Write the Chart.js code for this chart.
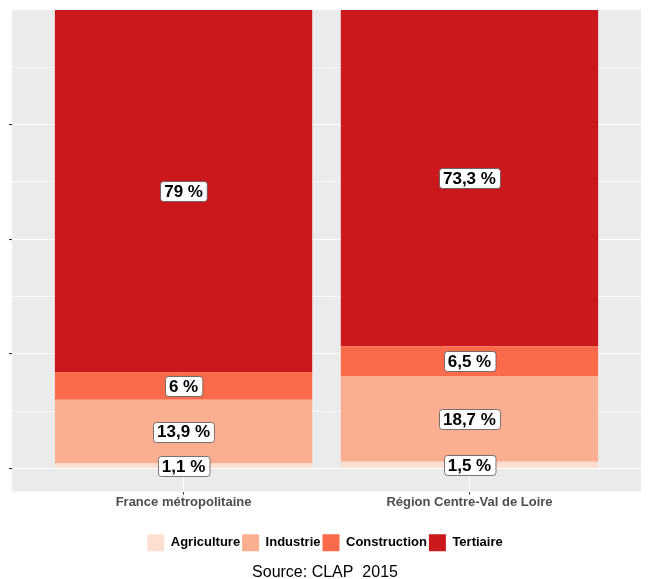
<!DOCTYPE html>
<html><head><meta charset="utf-8">
<script src="https://cdn.jsdelivr.net/npm/chart.js@4.4.0/dist/chart.umd.min.js"></script>
<style>html,body{margin:0;padding:0;background:#fff}#wrap{width:648px;height:579px}</style>
</head><body><div id="wrap"><canvas id="c" width="648" height="579"></canvas></div>
<script>
const categories = ['France métropolitaine', 'Région Centre-Val de Loire'];
const seriesNames = ['Agriculture', 'Industrie', 'Construction', 'Tertiaire'];
const agriculture = [1.1, 1.5];
const industrie = [13.9, 18.7];
const construction = [6, 6.5];
const tertiaire = [79, 73.3];
const gridValues = [0, 12.5, 25, 37.5, 50, 62.5, 75, 87.5];
const majorTicks = [0, 25, 50, 75];
const sourceText = 'Source: CLAP  2015';

const colors = ['#FEE0D2', '#FCAE91', '#FB6A4A', '#CB181D'];
const seriesValues = [agriculture, industrie, construction, tertiaire];
const FONT = '"Liberation Sans", Arial, Helvetica, sans-serif';

const datasets = seriesNames.map((name, si) => ({
  label: name,
  data: categories.map((c, ci) => ({ x: ci + 1, y: seriesValues[si][ci] })),
  backgroundColor: colors[si],
  borderWidth: 0,
  barPercentage: 1,
  categoryPercentage: 0.9
}));

const panelBg = {
  id: 'panelBg',
  beforeDraw(chart) {
    const { ctx, chartArea: a } = chart;
    ctx.save();
    ctx.fillStyle = '#EBEBEB';
    ctx.fillRect(a.left, a.top, a.right - a.left, a.bottom - a.top);
    ctx.restore();
  }
};

function fmt(v) { return String(v).replace('.', ',') + ' %'; }

const labelPlugin = {
  id: 'valueLabels',
  afterDatasetsDraw(chart) {
    const ctx = chart.ctx;
    ctx.save();
    ctx.font = 'bold 17px ' + FONT;
    ctx.textAlign = 'center';
    ctx.textBaseline = 'middle';
    chart.data.datasets.forEach((ds, di) => {
      const meta = chart.getDatasetMeta(di);
      meta.data.forEach((el, i) => {
        const txt = fmt(ds.data[i].y);
        const cx = el.x, cy = (el.y + el.base) / 2;
        const w = ctx.measureText(txt).width + 8, h = 20;
        const x0 = Math.round(cx - w / 2) + 0.5, y0 = Math.round(cy - h / 2) + 0.5;
        ctx.beginPath();
        ctx.roundRect(x0, y0, w, h, 3);
        ctx.fillStyle = '#FFFFFF';
        ctx.fill();
        ctx.lineWidth = 0.8;
        ctx.strokeStyle = '#555';
        ctx.stroke();
        ctx.fillStyle = '#000';
        ctx.fillText(txt, cx, cy + 1);
      });
    });
    ctx.restore();
  }
};

new Chart(document.getElementById('c'), {
  type: 'bar',
  data: { datasets },
  options: {
    responsive: false,
    animation: false,
    devicePixelRatio: 1,
    layout: { padding: { left: 9, right: 7, top: 10, bottom: 0 } },
    plugins: {
      tooltip: { enabled: false },
      legend: {
        position: 'bottom',
        labels: {
          boxWidth: 17, boxHeight: 17, padding: 2,
          color: '#000',
          font: { family: FONT, size: 13, weight: 'bold' }
        }
      },
      title: {
        display: true,
        position: 'bottom',
        text: sourceText,
        color: '#000',
        font: { family: FONT, size: 16, weight: 'normal', lineHeight: 0.8 },
        padding: { top: 5, bottom: 0 }
      }
    },
    scales: {
      x: {
        type: 'linear',
        stacked: true,
        offset: false,
        min: 0.4, max: 2.6,
        afterBuildTicks(s) { s.ticks = categories.map((c, i) => ({ value: i + 1 })); },
        afterFit(s) { s.height += 22; },
        ticks: {
          callback: (v) => categories[v - 1] || '',
          color: '#4D4D4D',
          font: { family: FONT, size: 13, weight: 'bold' },
          padding: 0,
          maxRotation: 0, autoSkip: false
        },
        grid: { offset: false, color: '#FFFFFF', lineWidth: 1, tickColor: '#333', tickLength: 3 },
        border: { display: false }
      },
      y: {
        type: 'linear',
        stacked: true,
        min: -5, max: 100,
        afterBuildTicks(s) { s.ticks = gridValues.map(v => ({ value: v })); },
        ticks: { display: false },
        grid: {
          color: '#FFFFFF',
          lineWidth: (c) => majorTicks.includes(c.tick.value) ? 1.1 : 0.6,
          tickColor: (c) => majorTicks.includes(c.tick.value) ? '#333' : 'rgba(0,0,0,0)',
          tickLength: 3
        },
        border: { display: false }
      }
    }
  },
  plugins: [panelBg, labelPlugin]
});
</script></body></html>
